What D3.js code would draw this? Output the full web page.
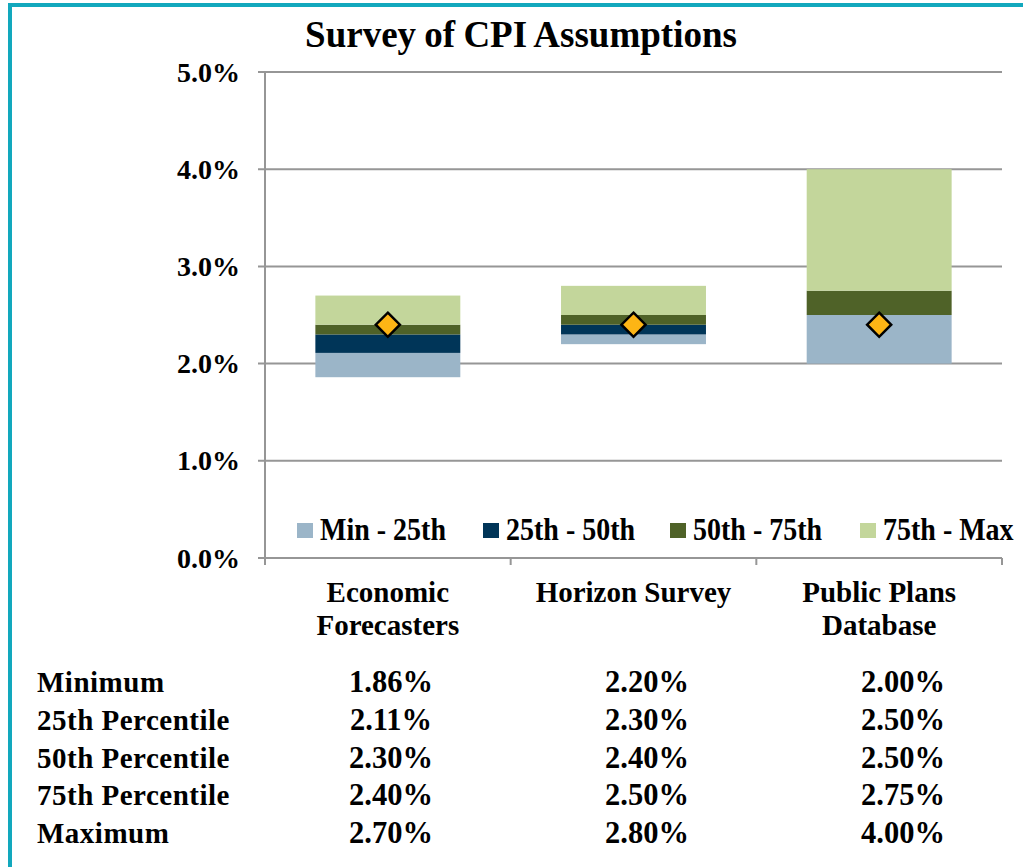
<!DOCTYPE html>
<html>
<head>
<meta charset="utf-8">
<script src="https://cdn.jsdelivr.net/npm/d3@7"></script>
<style>
  body { margin: 0; background: #fff; }
  text { font-family: "Liberation Serif", "Times New Roman", serif; font-weight: bold; fill: #000; }
</style>
</head>
<body>
<div id="chart"></div>
<script>
// Data
const categories = [["Economic", "Forecasters"], ["Horizon Survey"], ["Public Plans", "Database"]];
const minimum = [1.86, 2.20, 2.00];
const p25 = [2.11, 2.30, 2.50];
const p50 = [2.30, 2.40, 2.50];
const p75 = [2.40, 2.50, 2.75];
const maximum = [2.70, 2.80, 4.00];
const marker = [2.40, 2.40, 2.40];
const seriesNames = ["Min - 25th", "25th - 50th", "50th - 75th", "75th - Max"];
const seriesColors = ["#9bb5c8", "#003558", "#4f6228", "#c3d69b"];
const yTicks = [0, 1, 2, 3, 4, 5];
const tableRows = ["Minimum", "25th Percentile", "50th Percentile", "75th Percentile", "Maximum"];
const tableValues = [minimum, p25, p50, p75, maximum];

const W = 1023, H = 867;
const svg = d3.select("#chart").append("svg")
  .attr("width", W)
  .attr("height", H);

// outer frame
svg.append("rect")
  .attr("x", 10).attr("y", 5)
  .attr("width", W + 20).attr("height", H + 20)
  .attr("fill", "none")
  .attr("stroke", "#12a8bd")
  .attr("stroke-width", 4);

const plot = { left: 265, right: 1002, top: 72, bottom: 558 };

const x = d3.scaleBand()
  .domain(d3.range(categories.length))
  .range([plot.left, plot.right])
  .paddingInner(0.41)
  .paddingOuter(0.205);

const xTickScale = d3.scaleLinear()
  .domain([0, categories.length])
  .range([plot.left, plot.right]);

const y = d3.scaleLinear()
  .domain([0, 5])
  .range([plot.bottom, plot.top]);

// title
svg.append("text")
  .attr("x", 521)
  .attr("y", 47)
  .attr("text-anchor", "middle")
  .style("font-size", "37px")
  .style("word-spacing", "-1px")
  .text("Survey of CPI Assumptions");

// gridlines
svg.append("g")
  .selectAll("line")
  .data(yTicks)
  .join("line")
    .attr("x1", plot.left - 7)
    .attr("x2", plot.right)
    .attr("y1", d => y(d))
    .attr("y2", d => y(d))
    .attr("stroke", "#969696")
    .attr("stroke-width", 2);

// y axis line
svg.append("line")
  .attr("x1", plot.left).attr("x2", plot.left)
  .attr("y1", plot.top).attr("y2", plot.bottom + 7)
  .attr("stroke", "#969696")
  .attr("stroke-width", 2);

// x ticks
svg.append("g")
  .selectAll("line")
  .data(d3.range(categories.length + 1))
  .join("line")
    .attr("x1", d => xTickScale(d))
    .attr("x2", d => xTickScale(d))
    .attr("y1", plot.bottom)
    .attr("y2", plot.bottom + 7)
    .attr("stroke", "#969696")
    .attr("stroke-width", 2);

// y tick labels
svg.append("g")
  .selectAll("text")
  .data(yTicks)
  .join("text")
    .attr("x", 240)
    .attr("y", d => y(d) + 9.5)
    .attr("text-anchor", "end")
    .style("font-size", "28px")
    .text(d => d.toFixed(1) + "%");

// stacked bars
const segments = [];
categories.forEach((c, i) => {
  const bounds = [minimum[i], p25[i], p50[i], p75[i], maximum[i]];
  for (let s = 0; s < 4; s++) {
    segments.push({ i, s, y0: bounds[s], y1: bounds[s + 1] });
  }
});

svg.append("g")
  .selectAll("rect")
  .data(segments)
  .join("rect")
    .attr("x", d => x(d.i))
    .attr("width", x.bandwidth())
    .attr("y", d => y(d.y1))
    .attr("height", d => y(d.y0) - y(d.y1))
    .attr("fill", d => seriesColors[d.s]);

// diamonds
svg.append("g")
  .selectAll("path")
  .data(marker)
  .join("path")
    .attr("d", d3.symbol(d3.symbolDiamond2, 370))
    .attr("transform", (d, i) => `translate(${x(i) + x.bandwidth() / 2},${y(d)})`)
    .attr("fill", "#fdb515")
    .attr("stroke", "#000")
    .attr("stroke-width", 2.5);

// legend
const legendX = [297, 483, 670, 860];
const legend = svg.append("g")
  .selectAll("g")
  .data(seriesNames)
  .join("g")
    .attr("transform", (d, i) => `translate(${legendX[i]},530)`);

legend.append("rect")
  .attr("x", 0).attr("y", -7)
  .attr("width", 16).attr("height", 15)
  .attr("fill", (d, i) => seriesColors[i]);

legend.append("text")
  .attr("transform", "translate(23,10) scale(1,1.12)")
  .style("font-size", "28px")
  .text(d => d);

// category labels
const catLabels = svg.append("g")
  .selectAll("text")
  .data(categories)
  .join("text")
    .attr("x", (d, i) => x(i) + x.bandwidth() / 2)
    .attr("y", 602)
    .attr("text-anchor", "middle")
    .style("font-size", "29px");

catLabels.selectAll("tspan")
  .data(d => d)
  .join("tspan")
    .attr("x", function() { return d3.select(this.parentNode).attr("x"); })
    .attr("dy", (d, j) => j === 0 ? 0 : 33)
    .text(d => d);

// table below
const colX = d3.scalePoint()
  .domain(d3.range(categories.length))
  .range([391, 903]);

const rowY = d3.scalePoint()
  .domain(d3.range(tableRows.length))
  .range([692, 843]);

svg.append("g")
  .selectAll("text")
  .data(tableRows)
  .join("text")
    .attr("x", 37)
    .attr("y", (d, r) => rowY(r))
    .style("font-size", "29px")
    .style("letter-spacing", "0.5px")
    .text(d => d);

const cells = [];
tableValues.forEach((vals, r) => vals.forEach((v, c) => cells.push({ r, c, v })));

svg.append("g")
  .selectAll("text")
  .data(cells)
  .join("text")
    .attr("x", d => colX(d.c))
    .attr("y", d => rowY(d.r))
    .attr("text-anchor", "middle")
    .style("font-size", "30.5px")
    .text(d => d.v.toFixed(2) + "%");
</script>
</body>
</html>
